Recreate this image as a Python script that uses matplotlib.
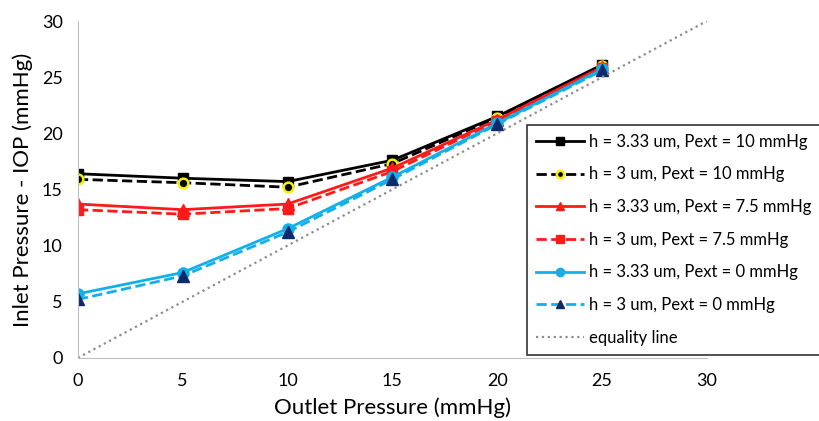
import numpy as np
import matplotlib.pyplot as plt

plt.rcParams['font.family'] = ['Lato', 'DejaVu Sans']

# outlet pressure (mmHg)
p_out = [0, 5, 10, 15, 20, 25]

# inlet pressure - IOP (mmHg) for each gap / external pressure case
h333_p10 = [16.4, 16.0, 15.7, 17.6, 21.5, 26.1]
h3_p10 = [15.9, 15.6, 15.2, 17.3, 21.4, 26.0]
h333_p75 = [13.7, 13.2, 13.7, 16.9, 21.2, 25.9]
h3_p75 = [13.2, 12.8, 13.3, 16.6, 21.1, 25.8]
h333_p0 = [5.7, 7.6, 11.5, 16.1, 20.9, 25.7]
h3_p0 = [5.2, 7.3, 11.2, 15.9, 20.8, 25.6]

eq_x = [0, 30]
eq_y = [0, 30]

fig = plt.figure(figsize=(8.2, 4.21), dpi=100)
ax = fig.add_axes([0.095, 0.15, 0.767, 0.80])

cyan = '#12b0ea'
ax.plot(p_out, h333_p10, '-', color='black', lw=2, marker='s', ms=7,
        label='h = 3.33 um, Pext = 10 mmHg')
ax.plot(p_out, h3_p10, '--', color='black', lw=2, marker='o', ms=7,
        mfc='black', mec='#f2f200', mew=1.8, label='h = 3 um, Pext = 10 mmHg')
ax.plot(p_out, h333_p75, '-', color='#ff1a1a', lw=2, marker='^', ms=8,
        label='h = 3.33 um, Pext = 7.5 mmHg')
ax.plot(p_out, h3_p75, '--', color='#ff1a1a', lw=2, marker='s', ms=7,
        label='h = 3 um, Pext = 7.5 mmHg')
ax.plot(p_out, h333_p0, '-', color=cyan, lw=2, marker='o', ms=8,
        label='h = 3.33 um, Pext = 0 mmHg')
ax.plot(p_out, h3_p0, '--', color=cyan, lw=2, marker='^', ms=8,
        mfc='#0d2a6b', mec='#0d2a6b', label='h = 3 um, Pext = 0 mmHg')
ax.plot(eq_x, eq_y, ':', color='#8c8c8c', lw=1.6, label='equality line')

ax.set_xlim(0, 30)
ax.set_ylim(0, 30)
ax.set_xticks(np.arange(0, 31, 5))
ax.set_yticks(np.arange(0, 31, 5))
ax.tick_params(length=0, labelsize=13, pad=11)
for s in ['top', 'right']:
    ax.spines[s].set_visible(False)
for s in ['left', 'bottom']:
    ax.spines[s].set_color('#bfbfbf')
ax.set_xlabel('Outlet Pressure (mmHg)', fontsize=16, labelpad=6)
ax.set_ylabel('Inlet Pressure - IOP (mmHg)', fontsize=16, labelpad=6)

leg = fig.legend(loc='upper left', bbox_to_anchor=(0.632, 0.724), fontsize=12,
                 frameon=True, fancybox=False, edgecolor='black',
                 handlelength=2.9, labelspacing=1.0, borderpad=0.55,
                 handletextpad=0.3, markerscale=0.75)
leg.get_frame().set_linewidth(1.2)

plt.savefig('out.png', dpi=100)
